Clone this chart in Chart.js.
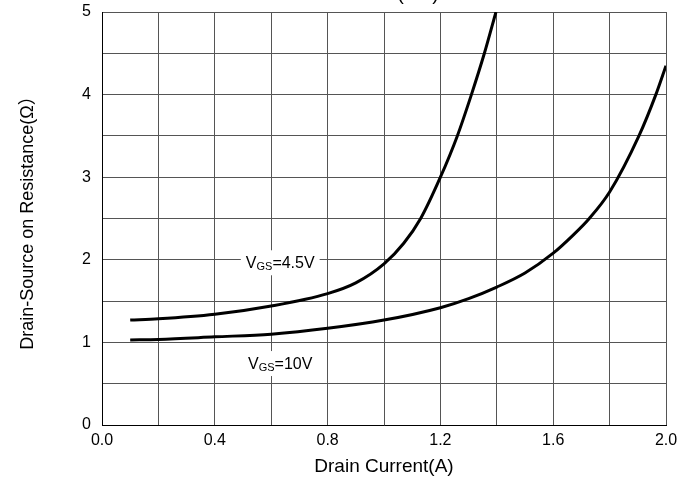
<!DOCTYPE html>
<html>
<head>
<meta charset="utf-8">
<script src="https://cdn.jsdelivr.net/npm/chart.js@4"></script>
<style>
  html, body { margin: 0; padding: 0; background: #fff; }
  #wrap { width: 690px; height: 483px; }
</style>
</head>
<body>
<div id="wrap"><canvas id="rdsChart" width="690" height="483"></canvas></div>
<script>
// values
const idVgs45 = [0.1, 0.2, 0.4, 0.6, 0.8, 0.9, 1.0, 1.07, 1.13, 1.2, 1.26, 1.31, 1.356, 1.397];
const rdsVgs45 = [1.27, 1.285, 1.34, 1.44, 1.59, 1.72, 1.95, 2.2, 2.5, 3.0, 3.5, 4.0, 4.5, 5.0];
const idVgs10 = [0.1, 0.2, 0.4, 0.6, 0.8, 1.0, 1.2, 1.3, 1.4, 1.5, 1.6, 1.668, 1.728, 1.8, 1.904, 1.964, 2.0];
const rdsVgs10 = [1.03, 1.036, 1.067, 1.10, 1.17, 1.27, 1.42, 1.53, 1.67, 1.84, 2.08, 2.29, 2.5, 2.82, 3.5, 4.0, 4.35];

const curveLabels = ['=4.5V', '=10V'];
const labelX = [0.632, 0.632];
const labelY = [1.97, 0.75];

const xTitle = 'Drain Current(A)';
const yTitle = 'Drain-Source on Resistance(Ω）';
const topTitle = '(ON)';

const toPts = (xs, ys) => xs.map((x, i) => ({x: x, y: ys[i]}));

// V_GS labels with white box over the grid
const curveLabelPlugin = {
  id: 'curveLabels',
  afterDraw(chart) {
    const {ctx, scales: {x, y}} = chart;
    ctx.save();
    curveLabels.forEach((tail, i) => {
      const cx = x.getPixelForValue(labelX[i]);
      const cy = y.getPixelForValue(labelY[i]);
      const big = '16px "Liberation Sans", Arial, sans-serif';
      const small = '11px "Liberation Sans", Arial, sans-serif';
      ctx.font = big;
      const wV = ctx.measureText('V').width;
      const wT = ctx.measureText(tail).width;
      ctx.font = small;
      const wS = ctx.measureText('GS').width;
      const w = wV + wS + wT;
      ctx.fillStyle = '#fff';
      ctx.fillRect(cx - w / 2 - 5, cy - 12, w + 10, 25);
      ctx.fillStyle = '#000';
      ctx.textBaseline = 'alphabetic';
      ctx.textAlign = 'left';
      let px = cx - w / 2;
      const base = cy + 6;
      ctx.font = big;
      ctx.fillText('V', px, base);
      px += wV;
      ctx.font = small;
      ctx.fillText('GS', px, base + 2);
      px += wS;
      ctx.font = big;
      ctx.fillText(tail, px, base);
    });
    // title cut off at the top edge
    ctx.font = '19px "Liberation Sans", Arial, sans-serif';
    ctx.textAlign = 'center';
    ctx.fillText(topTitle, 418, 0);
    ctx.restore();
  }
};

new Chart(document.getElementById('rdsChart'), {
  type: 'line',
  data: {
    datasets: [
      { data: toPts(idVgs45, rdsVgs45), borderColor: '#000', borderWidth: 3, pointRadius: 0, cubicInterpolationMode: 'monotone', fill: false },
      { data: toPts(idVgs10, rdsVgs10), borderColor: '#000', borderWidth: 3, pointRadius: 0, cubicInterpolationMode: 'monotone', fill: false }
    ]
  },
  options: {
    responsive: false,
    animation: false,
    devicePixelRatio: 1,
    layout: { padding: { top: 12, right: 24, left: 0, bottom: 0 } },
    plugins: { legend: { display: false }, tooltip: { enabled: false } },
    scales: {
      x: {
        type: 'linear', min: 0, max: 2,
        afterFit(s) { s.height = 58; s.paddingLeft = 0; s.paddingRight = 0; },
        grid: { color: '#555', lineWidth: 1, drawTicks: false },
        border: { color: '#000', width: 1 },
        ticks: {
          stepSize: 0.2, padding: 6, color: '#000',
          font: { family: '"Liberation Sans", Arial, sans-serif', size: 16 },
          maxRotation: 0, autoSkip: false,
          callback: (v, i) => i % 2 ? '' : v.toFixed(1)
        },
        title: {
          display: true, text: xTitle, color: '#000',
          font: { family: '"Liberation Sans", Arial, sans-serif', size: 19 },
          padding: { top: 0, bottom: 5 }
        }
      },
      y: {
        type: 'linear', min: 0, max: 5,
        afterFit(s) { s.width = 102; s.paddingTop = 0; s.paddingBottom = 0; },
        grid: { color: '#555', lineWidth: 1, drawTicks: false },
        border: { color: '#000', width: 1 },
        ticks: {
          stepSize: 0.5, padding: 11, color: '#000',
          font: { family: '"Liberation Sans", Arial, sans-serif', size: 16 },
          autoSkip: false,
          callback: (v) => Number.isInteger(v) ? v : ''
        },
        title: {
          display: true, text: yTitle, color: '#000',
          font: { family: '"Liberation Sans", Arial, "Noto Sans CJK SC", sans-serif', size: 18 },
          padding: { top: 17, bottom: 0 }
        }
      }
    }
  },
  plugins: [curveLabelPlugin]
});
</script>
</body>
</html>
